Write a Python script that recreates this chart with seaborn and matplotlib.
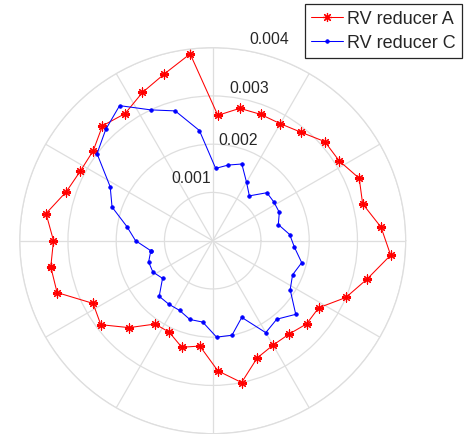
import numpy as np
import pandas as pd
import matplotlib
matplotlib.use("Agg")
import matplotlib.pyplot as plt
import seaborn as sns

# Angular sample positions in degrees: 39 evenly spaced samples, loop closed on the first one
angle_deg = np.linspace(189.2, 189.2 + 360.0, 40)

# Measured radial deviation for each reducer at the sample angles
reducer_a = [0.0034, 0.0034, 0.0028, 0.0029, 0.0025, 0.0021, 0.0021, 0.0023, 0.0022, 0.0027,
             0.0030, 0.0026, 0.0025, 0.0025, 0.0026, 0.0026, 0.0030, 0.0033, 0.0037, 0.0035,
             0.0032, 0.0033, 0.0031, 0.0031, 0.0029, 0.0028, 0.0028, 0.0028, 0.0026, 0.0039,
             0.0036, 0.0034, 0.0032, 0.0033, 0.0031, 0.0031, 0.0032, 0.0035, 0.0033, 0.0034]
reducer_c = [0.0013, 0.0014, 0.0014, 0.0013, 0.0016, 0.0016, 0.0016, 0.0017, 0.0017, 0.0020,
             0.0020, 0.0017, 0.0022, 0.0021, 0.0023, 0.0019, 0.0018, 0.0019, 0.0017, 0.0016,
             0.0014, 0.0015, 0.0015, 0.0015, 0.0012, 0.0014, 0.0017, 0.0016, 0.0015, 0.0023,
             0.0028, 0.0030, 0.0034, 0.0032, 0.0030, 0.0024, 0.0022, 0.0018, 0.0016, 0.0013]

series_names = ["RV reducer A", "RV reducer C"]
r_ticks = [0.001, 0.002, 0.003, 0.004]
r_tick_labels = ["0.001", "0.002", "0.003", "0.004"]

sns.set_theme(style="white")
plt.rcParams["font.family"] = ["Liberation Sans", "DejaVu Sans"]

grid_color = "#dedede"
text_color = "#262626"

fig = plt.figure(figsize=(4.65, 4.35), dpi=100)
ax = fig.add_axes([0.0424, 0.0007, 0.8301, 0.8874], projection="polar")
ax.set_facecolor("white")
ax.set_axisbelow(True)

theta = np.deg2rad(angle_deg)
df_a = pd.DataFrame({"theta": theta, "r": reducer_a})
df_c = pd.DataFrame({"theta": theta, "r": reducer_c})

sns.lineplot(data=df_a, x="theta", y="r", ax=ax, sort=False, estimator=None,
             color="red", lw=0.75, marker=(8, 2, 0), markersize=6.5,
             markeredgewidth=0.85, markeredgecolor="red", label=series_names[0])
sns.lineplot(data=df_c, x="theta", y="r", ax=ax, sort=False, estimator=None,
             color="blue", lw=0.75, marker="o", markersize=2.6,
             markeredgewidth=0.5, markeredgecolor="blue", label=series_names[1])

ax.set_theta_zero_location("E")
ax.set_theta_direction(1)
ax.set_ylim(0, 0.004)
ax.set_yticks(r_ticks)
ax.set_yticklabels([])
ax.set_xticks(np.deg2rad(np.arange(0, 360, 30)))
ax.set_xticklabels([])
ax.set_xlabel("")
ax.set_ylabel("")
ax.tick_params(length=0)
ax.grid(True, color=grid_color, lw=0.9)
ax.spines["polar"].set_color(grid_color)
ax.spines["polar"].set_linewidth(0.9)

# Radial tick labels
label_pos = [(0.3938, 0.6513), (0.5145, 0.7505), (0.5422, 0.8845), (0.594, 1.0122)]
for (px, py), txt in zip(label_pos, r_tick_labels):
    ax.text(px, py, txt, transform=ax.transAxes, ha="left", va="baseline",
            fontsize=11.3, color=text_color, clip_on=False)

handles, labels = ax.get_legend_handles_labels()
ax.get_legend().remove()
leg = fig.legend(handles, labels, loc="upper right",
                 bbox_to_anchor=(461.7 / 465, 1 - 4.7 / 435),
                 bbox_transform=fig.transFigure, borderaxespad=0,
                 fontsize=13, handlelength=1.77, handletextpad=0.18,
                 labelspacing=0.40, borderpad=0.36, frameon=True,
                 fancybox=False, framealpha=1, edgecolor=text_color)
leg.get_frame().set_linewidth(0.9)

fig.savefig("out.png", dpi=100, facecolor="white")
